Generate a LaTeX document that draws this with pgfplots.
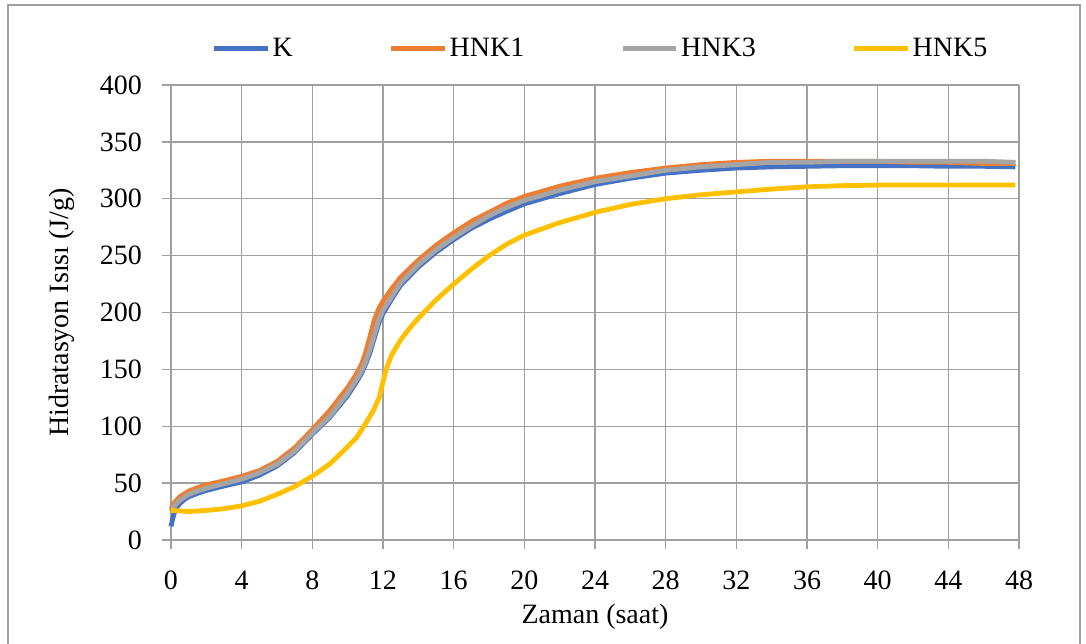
\documentclass[border=0pt]{standalone}
\usepackage{pgfplots}
\pgfplotsset{compat=1.18}
\usepackage{fontspec}
\setmainfont{Liberation Serif}
\definecolor{cK}{HTML}{4472C4}
\definecolor{cH1}{HTML}{ED7D31}
\definecolor{cH3}{HTML}{A5A5A5}
\definecolor{cH5}{HTML}{FFC000}
\definecolor{gridc}{HTML}{A0A0A0}
\begin{document}
\begin{tikzpicture}
\begin{axis}[
  scale only axis,
  width=636pt, height=341.25pt,
  xmin=0, xmax=48, ymin=0, ymax=400,
  xtick={0,4,...,48}, ytick={0,50,...,400},
  grid=major,
  grid style={gridc, line width=1.1pt},
  axis line style={gridc, line width=1.1pt},
  tick style={gridc, line width=1.1pt},
  tick align=outside,
  major tick length=6.75pt,
  axis x line*=bottom, axis y line*=left,
  font=\fontsize{21}{25}\selectfont,
  /pgf/number format/assume math mode=true,
  xticklabel style={yshift=-13pt},
  yticklabel style={xshift=-11.5pt},
  xlabel={Zaman (saat)},
  ylabel={Hidratasyon Isısı (J/g)},
  xlabel style={at={(rel axis cs:0.5,-0.1695)}, anchor=center},
  ylabel style={at={(rel axis cs:-0.1285,0.5)}, anchor=center, rotate=0},
  legend columns=4,
  legend style={draw=none, fill=none, at={(rel axis cs:0.507,1.081)}, anchor=center,
    font=\fontsize{21}{25}\selectfont, nodes={inner sep=2pt},
    /tikz/every even column/.append style={column sep=70pt}},
  legend image code/.code={\draw[#1] (0pt,0pt) -- (40pt,0pt);},
  every axis plot/.append style={line width=3.6pt, line join=round},
  clip=false,
]
\addplot[cK] coordinates {(0,12) (0.1,19) (0.25,27) (0.5,32) (0.75,35.5) (1,38) (1.5,41) (2,43.5) (3,47.5) (4,51) (5,57) (6,65) (7,77) (8,93) (9,108) (10,127) (10.5,139) (10.8,147) (11,154) (11.25,164) (11.5,177) (11.75,190) (12,199) (12.5,212) (13,224) (14,240) (15,253) (16,264) (17,274) (18,282) (19,289) (20,295.5) (22,304.5) (24,312.5) (26,318) (28,322.5) (30,325) (32,327) (34,328) (36,328.5) (38,329) (40,329) (42,329) (44,328.5) (46,328.5) (47.8,328)};
\addlegendentry{K}
\addplot[cH1] coordinates {(0,27) (0.2,33) (0.5,38) (1,43) (1.5,46) (2,48.5) (3,52) (4,56) (5,61) (6,69) (7,81) (8,97) (9,114) (10,134) (10.5,146) (10.8,155) (11,164) (11.25,178) (11.5,193) (11.75,203) (12,210) (12.5,221) (13,231) (14,246) (15,259) (16,270) (17,280) (18,288) (19,296) (20,302) (22,311) (24,318) (26,323) (28,327) (30,330) (32,332) (34,333) (36,333) (38,333) (40,333) (42,332) (44,332) (46,331) (47.8,331)};
\addlegendentry{HNK1}
\addplot[cH3] coordinates {(0,25) (0.2,30) (0.5,35) (1,40) (1.5,43) (2,45.5) (3,49.5) (4,53.5) (5,59) (6,66.5) (7,78) (8,94) (9,109) (10,129) (10.5,141) (10.8,149) (11,156) (11.25,167) (11.5,180) (11.75,193) (12,202) (12.5,214) (13,226) (14,242) (15,255) (16,266) (17,276) (18,285) (19,292.5) (20,298.5) (22,307.5) (24,315) (26,320) (28,325) (30,328) (32,330) (34,332) (36,332) (38,333) (40,333) (42,333) (44,333) (46,333) (47.8,332)};
\addlegendentry{HNK3}
\addplot[cH5] coordinates {(0,26) (0.5,25.5) (1,25) (2,26) (3,27.5) (4,30) (5,34) (6,40) (7,47) (8,56) (9,67) (10,82) (10.5,90) (11,102) (11.5,115) (11.8,126) (12,139) (12.2,151) (12.5,163) (13,176) (13.5,186) (14,195) (15,211) (16,225) (17,238) (18,250) (19,260) (20,268) (22,279) (24,288) (26,295) (28,300) (30,303.5) (32,306) (34,308.5) (36,310.5) (38,311.5) (40,312) (42,312) (44,312) (46,312) (47.8,312)};
\addlegendentry{HNK5}
\coordinate (bbA) at (rel axis cs:-0.20165,-0.22857);
\coordinate (bbB) at (rel axis cs:1.07901,1.18681);
\coordinate (frL) at (rel axis cs:-0.19222,-0.24);
\coordinate (frLT) at (rel axis cs:-0.19222,1.17582);
\coordinate (frRT) at (rel axis cs:1.07193,1.17582);
\coordinate (frR) at (rel axis cs:1.07193,-0.24);
\end{axis}
\draw[gridc, line width=0.8pt] (frL) -- (frLT) -- (frRT) -- (frR);
\pgfresetboundingbox
\useasboundingbox (bbA) rectangle (bbB);
\end{tikzpicture}
\end{document}
